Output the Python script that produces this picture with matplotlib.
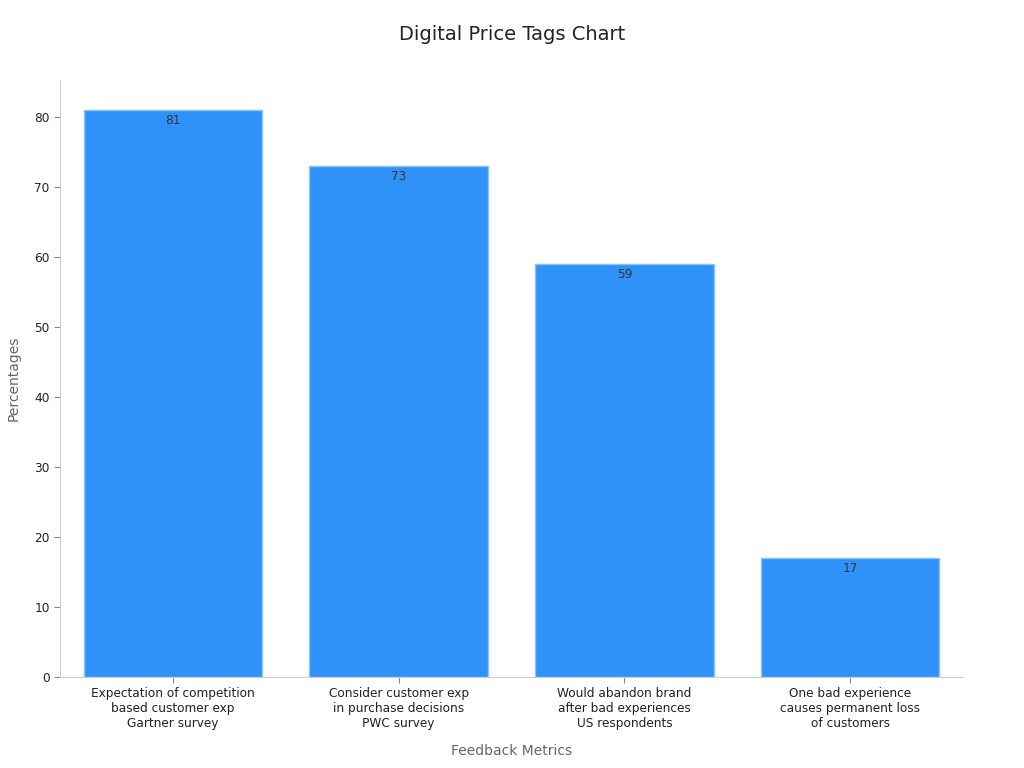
import matplotlib.pyplot as plt

categories = [
    "Expectation of competition\nbased customer exp\nGartner survey",
    "Consider customer exp\nin purchase decisions\nPWC survey",
    "Would abandon brand\nafter bad experiences\nUS respondents",
    "One bad experience\ncauses permanent loss\nof customers",
]
values = [81, 73, 59, 17]

fig = plt.figure(figsize=(10.24, 7.68), dpi=100)
ax = fig.add_axes([0.0586, 0.1185, 0.8818, 0.7773])

x = range(len(categories))
bars = ax.bar(x, values, width=0.79, color="#2F92F8", edgecolor="#8CC2FA", linewidth=1)

for b, v in zip(bars, values):
    ax.text(b.get_x() + b.get_width() / 2, v - 0.5, str(v), ha="center", va="top",
            fontsize=8.7, color="#333333")

ax.set_xlim(-0.5, 3.5)
ax.set_ylim(0, 85.3)
ax.set_xticks(list(x))
ax.set_xticklabels(categories, fontsize=8.7, color="#222222")
ax.set_yticks(range(0, 81, 10))
ax.tick_params(axis="y", labelsize=8.7, colors="#222222")
ax.tick_params(axis="both", color="#888888", length=4)

for side in ["top", "right"]:
    ax.spines[side].set_visible(False)
for side in ["left", "bottom"]:
    ax.spines[side].set_color("#cccccc")

ax.set_xlabel("Feedback Metrics", fontsize=10, color="#666666", labelpad=10)
ax.set_ylabel("Percentages", fontsize=10, color="#666666", labelpad=10)
fig.suptitle("Digital Price Tags Chart", fontsize=14, color="#222222", y=0.968)

fig.savefig("out.png", dpi=100)
